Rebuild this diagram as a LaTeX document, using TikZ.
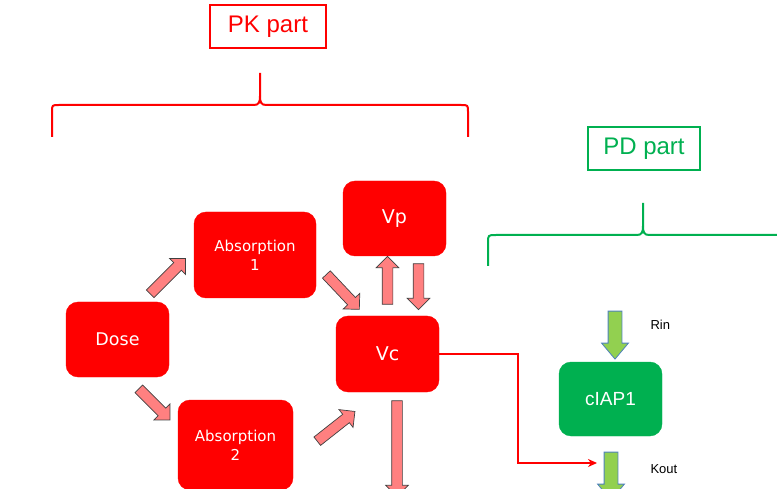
\documentclass[tikz,border=0pt]{standalone}
\usepackage{fontspec}
\setmainfont{Liberation Sans}
\newfontfamily\boxfont{DejaVu Sans}
\usetikzlibrary{shapes.arrows}
\usetikzlibrary{arrows.meta}

\definecolor{pkred}{HTML}{FF0000}
\definecolor{pkpink}{HTML}{FF8080}
\definecolor{pdgreen}{HTML}{00B050}
\definecolor{pdlime}{HTML}{92D050}
\definecolor{pdblue}{HTML}{4F81BD}

\tikzset{
  pkbox/.style={draw=pkred, fill=pkred, rounded corners=12pt, text=white, align=center, font=\boxfont, inner sep=0pt},
  pdbox/.style={draw=pdgreen, fill=pdgreen, rounded corners=12pt, text=white, align=center, font=\boxfont, inner sep=0pt},
  fatpink/.style={single arrow, draw=black!75, fill=pkpink, line width=.7pt, inner sep=5pt, single arrow head extend=6pt, minimum height=#1, anchor=center},
  fatgreen/.style={single arrow, draw=pdblue, fill=pdlime, line width=.8pt, inner sep=6.5pt, single arrow head extend=6.5pt, single arrow tip angle=80, minimum height=#1, anchor=center},
  brace/.style={line width=2pt, line join=round}
}

\begin{document}
\begin{tikzpicture}[x=1pt,y=-1pt]
\useasboundingbox (0,0) rectangle (777,489);
% part titles
\node[draw=pkred, text=pkred, line width=1.3pt, font=\fontsize{24}{28}\selectfont, minimum width=116, minimum height=43] (pktitle) at (268,26.5) {PK part};
\node[draw=pdgreen, text=pdgreen, line width=1.3pt, font=\fontsize{24}{28}\selectfont, minimum width=112, minimum height=43] (pdtitle) at (644,148.5) {PD part};
% braces
\draw[brace, pkred] (52,137) -- (52,112) .. controls (52,105) .. (59,105) -- (254,105) .. controls (259,105) and (260,102) .. (260,96) -- (260,73);
\draw[brace, pkred] (260,96) .. controls (260,102) and (261,105) .. (266,105) -- (461,105) .. controls (468,105) .. (468,112) -- (468,137);
\draw[brace, pdgreen] (488,266) -- (488,243) .. controls (488,235) .. (496,235) -- (637,235) .. controls (642,235) and (643,232) .. (643,226) -- (643,203);
\draw[brace, pdgreen] (643,226) .. controls (643,232) and (644,235) .. (649,235) -- (780,235);
% compartments
\node[pkbox, minimum width=103, minimum height=75, font=\boxfont\fontsize{19}{22}\selectfont] (vp) at (394.5,218.5) {Vp};
\node[pkbox, minimum width=122, minimum height=86, font=\boxfont\fontsize{15}{19}\selectfont] (abs1) at (255,255) {Absorption\\1};
\node[pkbox, minimum width=103, minimum height=75, font=\boxfont\fontsize{17.5}{21}\selectfont] (dose) at (117.5,339.5) {Dose};
\node[pkbox, minimum width=103, minimum height=76, font=\boxfont\fontsize{19}{22}\selectfont] (vc) at (387.5,354) {Vc};
\node[pkbox, minimum width=115, minimum height=90, font=\boxfont\fontsize{15}{19}\selectfont] (abs2) at (235.5,445) {Absorption\\2};
\node[pdbox, minimum width=103, minimum height=74, font=\fontsize{19}{22}\selectfont] (ciap) at (610.5,399) {cIAP1};
% flows
\path (148,296) -- node[fatpink=50, sloped] (f1) {} (184,260);
\path (137,387) -- node[fatpink=44, sloped] (f2) {} (168,418);
\path (324,272) -- node[fatpink=48, sloped] (f3) {} (358,308);
\path (315,443) -- node[fatpink=48, sloped] (f4) {} (353,413);
\path (387.5,307) -- node[fatpink=48, sloped] (f5) {} (387.5,259);
\path (418.5,261) -- node[fatpink=46, sloped] (f6) {} (418.5,307);
\path (397,398) -- node[fatpink=96, sloped] (f7) {} (397,494);
\path (615,307) -- node[fatgreen=48, sloped] (rin) {} (615,355);
\path (611,448) -- node[fatgreen=48, sloped] (kout) {} (611,496);
\node[font=\fontsize{13}{15}\selectfont, anchor=west] (rinlab) at (647,325) {Rin};
\node[font=\fontsize{13}{15}\selectfont, anchor=west] (koutlab) at (647,469) {Kout};
% drug effect
\coordinate (bend) at (518,463);
\coordinate (kin) at (597,463);
\draw[pkred, line width=2pt, -{Stealth[length=9pt,width=8pt]}] (vc.east) -| (bend) -- (kin);
\end{tikzpicture}
\end{document}
